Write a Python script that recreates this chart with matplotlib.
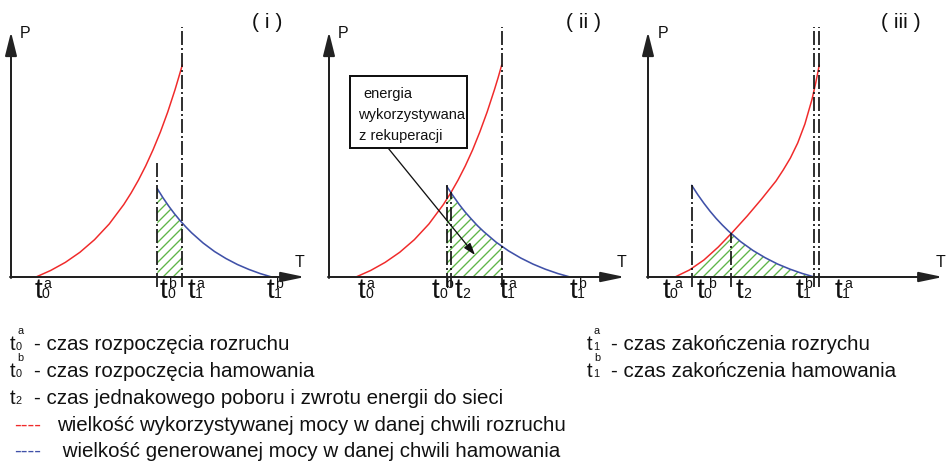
import numpy as np
import matplotlib
matplotlib.use('Agg')
import matplotlib.pyplot as plt
from matplotlib.patches import Rectangle

plt.rcParams['font.family'] = ['Liberation Sans', 'DejaVu Sans']
plt.rcParams['lines.scale_dashes'] = False
plt.rcParams['hatch.linewidth'] = 0.8
plt.rcParams['hatch.color'] = '#5fb548'

W, H, DPI = 946, 461, 120
PX = 72.0 / DPI  # points per pixel

# ---------------- data (time / power in drawing units) ----------------
panel_titles = ['( i )', '( ii )', '( iii )']

red_t_1 = [25.0, 39.6, 54.3, 68.9, 83.5, 98.2, 112.8, 120.1, 127.4, 134.7, 142.0, 149.4, 156.7, 164.0, 167.6, 171.3]
red_p_1 = [0, 6.5, 14.6, 24.7, 37.3, 53.0, 72.5, 84.0, 96.8, 111.1, 127.1, 145.0, 164.9, 187.2, 199.3, 212]
blue_t_1 = [146.3, 152.0, 157.7, 163.5, 169.2, 174.9, 180.6, 192.1, 203.5, 214.9, 226.4, 237.8, 249.3, 260.7]
blue_p_1 = [88.3, 79.2, 70.9, 63.2, 56.3, 50.0, 44.2, 34.0, 25.5, 18.5, 12.5, 7.6, 3.4, 0]
events_1 = {'t0a': 25.0, 't0b': 146.3, 't1a': 171.3, 't1b': 260.7}

red_t_2 = [27.0, 41.6, 56.1, 70.7, 85.3, 99.9, 114.4, 121.7, 129.0, 136.3, 143.6, 150.8, 158.1, 165.4, 169.1, 172.7]
red_p_2 = [0, 6.5, 14.6, 24.7, 37.3, 53.0, 72.5, 84.0, 96.8, 111.1, 127.1, 145.0, 164.9, 187.2, 199.3, 212]
blue_t_2 = [117.7, 123.9, 130.0, 136.2, 142.4, 148.5, 154.7, 167.0, 179.4, 191.7, 204.0, 216.3, 228.7, 241.0]
blue_p_2 = [90.7, 81.4, 72.8, 64.9, 57.9, 51.3, 45.4, 34.9, 26.2, 19.0, 12.9, 7.8, 3.5, 0]
events_2 = {'t0a': 27.0, 't0b': 117.7, 't2': 121.7, 't1a': 172.7, 't1b': 241.0}

red_t_3 = [27.0, 41.4, 55.9, 70.3, 84.7, 99.2, 113.6, 128.0, 135.2, 142.4, 149.7, 156.9, 164.1, 167.7, 171.3]
red_p_3 = [0, 7, 17, 30, 45, 61, 78, 96, 107, 119, 134, 153, 178, 194, 212]
blue_t_3 = [43.7, 49.8, 56.0, 62.1, 68.2, 74.4, 80.5, 92.7, 105.0, 117.3, 129.5, 141.8, 154.0, 166.3]
blue_p_3 = [91.7, 82.3, 73.6, 65.7, 58.5, 51.9, 45.9, 35.3, 26.5, 19.2, 13.0, 7.9, 3.6, 0]
events_3 = {'t0a': 27.0, 't0b': 43.7, 't2': 82.7, 't1b': 166.3, 't1a': 171.3}

box_lines = ['energia', 'wykorzystywana', 'z rekuperacji']

legend_left = [('0', 'a', '- czas rozpoczęcia rozruchu'),
               ('0', 'b', '- czas rozpoczęcia hamowania'),
               ('2', '', '- czas jednakowego poboru i zwrotu energii do sieci')]
legend_right = [('1', 'a', '- czas zakończenia rozrychu'),
                ('1', 'b', '- czas zakończenia hamowania')]
legend_lines = [('#f02a2a', 'wielkość wykorzystywanej mocy w danej chwili rozruchu'),
                ('#4051a8', ' wielkość generowanej mocy w danej chwili hamowania')]

# ---------------- style / layout ----------------
RED = '#f02a2a'
BLUE = '#4051a8'
AX_COL = '#222222'
DASHDOT = (0, (14 * PX, 3 * PX, 2 * PX, 3 * PX))

panel_origin = [11, 329, 648]
baseline_px = 277
x_tips = [294, 296, 295]

# label layout: (key, x of 't', sub, sup, sup_dx)
labels_1 = [('t0a', 24, '0', 'a', 8), ('t0b', 149, '0', 'b', 8), ('t1a', 177, '1', 'a', 8), ('t1b', 256, '1', 'b', 8)]
labels_2 = [('t0a', 29, '0', 'a', 8), ('t0b', 103, '0', 'b', 13), ('t2', 126, '2', '', 0), ('t1a', 171, '1', 'a', 8), ('t1b', 241, '1', 'b', 8)]
labels_3 = [('t0a', 15, '0', 'a', 11), ('t0b', 49, '0', 'b', 11), ('t2', 88, '2', '', 0), ('t1b', 148, '1', 'b', 8), ('t1a', 187, '1', 'a', 9)]

# vertical dash-dot lines: (key, top) ; None -> intersection height
vlines_1 = [('t0b', 115), ('t1a', 250)]
vlines_2 = [('t0b', 92), ('t2', None), ('t1a', 250)]
vlines_3 = [('t0b', 92), ('t2', None), ('t1b', 250), ('t1a', 250)]

title_x = [256, 254.5, 252.5]
P_x = [9, 9, 10]
T_x = [284, 288, 288]

fig = plt.figure(figsize=(W / DPI, H / DPI), dpi=DPI)

# overlay axes in pixel coords for the legend
ov = fig.add_axes([0, 0, 1, 1])
ov.set_xlim(0, W)
ov.set_ylim(H, 0)
ov.axis('off')


def t_label(ax, x, y, sub, sup, big, small, sub_dx, sup_dx, sup_rise):
    ax.text(x, y, 't', fontsize=big * PX, ha='left', va='baseline', color='#111111')
    ax.text(x + sub_dx, y, sub, fontsize=small * PX, ha='left', va='baseline', color='#111111')
    if sup:
        ax.text(x + sup_dx, y + sup_rise, sup, fontsize=small * PX, ha='left', va='baseline', color='#111111')


def draw_panel(i, red_t, red_p, blue_t, blue_p, ev, labels, vlines, box=False):
    ox = panel_origin[i]
    left = ox - 12
    ax = fig.add_axes([left / W, (H - 310) / H, 310 / W, 310 / H])
    ax.set_xlim(-12, 298)
    ax.set_ylim(baseline_px - 310, baseline_px)
    ax.axis('off')
    ax.patch.set_alpha(0)

    # hatched area (energy from recuperation)
    x0 = ev['t0b']
    x1 = min(ev['t1a'], ev['t1b'])
    xs = np.linspace(x0, x1, 400)
    ys = np.minimum(np.interp(xs, red_t, red_p), np.interp(xs, blue_t, blue_p))
    ax.fill_between(xs, 0, ys, facecolor='none', edgecolor='#5fb548', linewidth=0,
                    hatch='////', zorder=1)

    # curves
    ax.plot(red_t, red_p, color=RED, lw=1.5 * PX, zorder=3, solid_capstyle='round')
    ax.plot(blue_t, blue_p, color=BLUE, lw=1.6 * PX, zorder=3, solid_capstyle='round')

    # vertical dash-dot lines
    for key, top in vlines:
        if top is None:
            top = float(np.interp(ev[key], blue_t, blue_p))
        ax.plot([ev[key], ev[key]], [-10, top], color='#111111', lw=1.7 * PX,
                linestyle=DASHDOT, zorder=4, clip_on=False)

    # axes with arrows
    ax.annotate('', xy=(x_tips[i], 0), xytext=(-1, 0), annotation_clip=False,
                arrowprops=dict(arrowstyle='-|>,head_length=1.2,head_width=0.25',
                                lw=2 * PX, color=AX_COL, shrinkA=0, shrinkB=0,
                                mutation_scale=10), zorder=5)
    ax.annotate('', xy=(0, 245), xytext=(0, -1), annotation_clip=False,
                arrowprops=dict(arrowstyle='-|>,head_length=1.2,head_width=0.3',
                                lw=2 * PX, color=AX_COL, shrinkA=0, shrinkB=0,
                                mutation_scale=10), zorder=5)

    ax.text(P_x[i], 239, 'P', fontsize=16 * PX, ha='left', va='baseline', color='#111111')
    ax.text(T_x[i], 10, 'T', fontsize=16 * PX, ha='left', va='baseline', color='#111111')
    ax.text(title_x[i], 248.5, panel_titles[i], fontsize=21 * PX, ha='center', va='baseline',
            color='#111111')

    for key, lx, sub, sup, sdx in labels:
        t_label(ax, lx, -20.7, sub, sup, 28, 14, 7, sdx if sdx else 8, 10)

    if box:
        ax.add_patch(Rectangle((21, 128.7), 116.7, 72.3, facecolor='white',
                               edgecolor='#111111', lw=2 * PX, zorder=6))
        ys_txt = [179, 158, 137]
        xs_txt = [34, 29, 30]
        for s, xt, yt in zip(box_lines, xs_txt, ys_txt):
            ax.text(xt, yt, s, fontsize=14.6 * PX, ha='left', va='baseline',
                    color='#111111', zorder=7)
        ax.annotate('', xy=(146, 22), xytext=(59.3, 128.7), annotation_clip=False,
                    arrowprops=dict(arrowstyle='-|>,head_length=0.6,head_width=0.2',
                                    lw=1.3 * PX, color='#111111', shrinkA=0, shrinkB=0,
                                    mutation_scale=10), zorder=6)


draw_panel(0, red_t_1, red_p_1, blue_t_1, blue_p_1, events_1, labels_1, vlines_1)
draw_panel(1, red_t_2, red_p_2, blue_t_2, blue_p_2, events_2, labels_2, vlines_2, box=True)
draw_panel(2, red_t_3, red_p_3, blue_t_3, blue_p_3, events_3, labels_3, vlines_3)

# ---------------- legend (pixel coordinates, y down) ----------------
FS = 20.5
base_y = [350, 377, 404]
for (sub, sup, txt), by in zip(legend_left, base_y):
    t_label(ov, 10, by, sub, sup, FS, 11, 6, 7, -16)
    ov.text(34, by, txt, fontsize=FS * PX, ha='left', va='baseline', color='#111111')

for (sub, sup, txt), by in zip(legend_right, base_y[:2]):
    t_label(ov, 587, by, sub, sup, FS, 11, 6, 7, -16)
    ov.text(611, by, txt, fontsize=FS * PX, ha='left', va='baseline', color='#111111')

line_y = [431, 457]
line_tx = [57, 57]
for (col, txt), by, tx in zip(legend_lines, line_y, line_tx):
    ov.text(14, by, '----', fontsize=FS * PX, ha='left', va='baseline', color=col)
    ov.text(tx, by, txt, fontsize=FS * PX, ha='left', va='baseline', color='#111111')

fig.savefig('out.png', dpi=DPI)
